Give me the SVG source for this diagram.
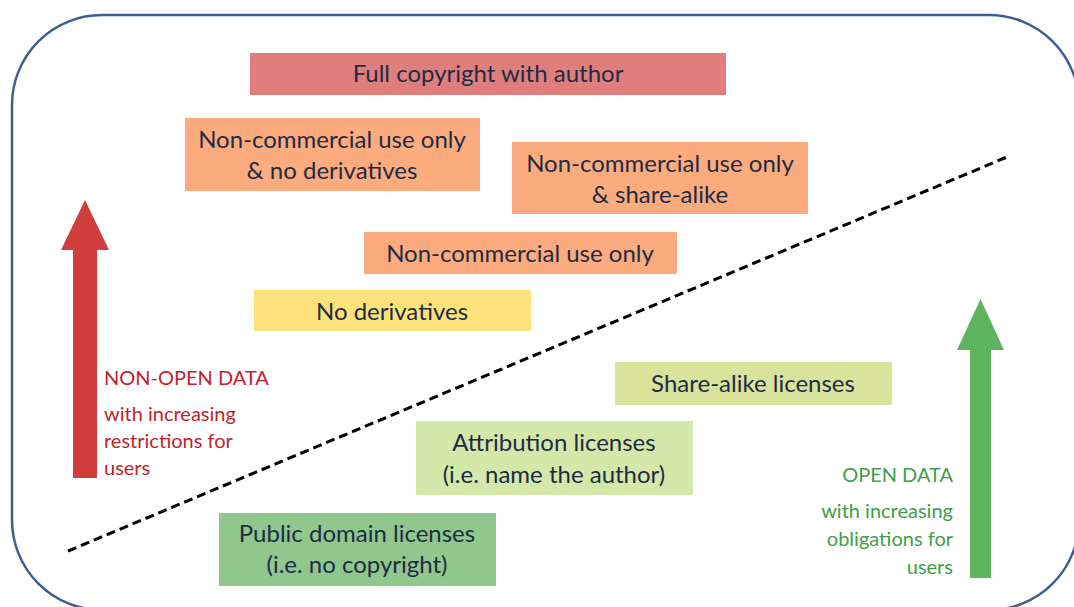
<svg xmlns="http://www.w3.org/2000/svg" width="1074" height="607" viewBox="0 0 1074 607">
  <style>
    .box text { font-family: Lato, "Open Sans", "Liberation Sans", sans-serif; font-size: 24px; fill: #1e2b45; text-anchor: middle; }
    .red { font-family: Lato, "Open Sans", "Liberation Sans", sans-serif; font-size: 20px; fill: #c0232b; }
    .green { font-family: Lato, "Open Sans", "Liberation Sans", sans-serif; font-size: 20px; fill: #3f9e47; text-anchor: end; }
  </style>
  <rect x="0" y="0" width="1074" height="607" fill="#ffffff"/>
  <!-- frame -->
  <rect x="12" y="15" width="1067" height="595" rx="90" ry="90" fill="none" stroke="#3b5f91" stroke-width="2.5"/>

  <!-- divider between open and non-open -->
  <g id="connectors">
    <line x1="68" y1="551" x2="1007" y2="157" stroke="#000" stroke-width="3" stroke-dasharray="9 5"/>
  </g>

  <!-- arrows -->
  <g id="arrow-nonopen">
    <polygon points="73,478 73,250 61,250 85,200 109,250 97,250 97,478" fill="#d13c3c"/>
  </g>
  <g id="arrow-open">
    <polygon points="970,578 970,350 957,350 980.5,299 1004,350 991,350 991,578" fill="#5fb35f"/>
  </g>

  <g id="full-copyright" class="box">
    <rect x="250" y="53" width="476" height="42" fill="#e07d7d"/>
    <text x="488" y="82">Full copyright with author</text>
  </g>
  <g id="nc-nd" class="box">
    <rect x="185" y="118" width="295" height="73" fill="#fbab7d"/>
    <text x="332" y="148">Non-commercial use only</text>
    <text x="332" y="179">&amp; no derivatives</text>
  </g>
  <g id="nc-sa" class="box">
    <rect x="512" y="142" width="296" height="72" fill="#fbab7d"/>
    <text x="660" y="172">Non-commercial use only</text>
    <text x="660" y="203">&amp; share-alike</text>
  </g>
  <g id="nc" class="box">
    <rect x="364" y="232" width="313" height="42" fill="#fbab7d"/>
    <text x="520" y="262">Non-commercial use only</text>
  </g>
  <g id="nd" class="box">
    <rect x="254" y="290" width="277" height="41" fill="#fde27b"/>
    <text x="392" y="320">No derivatives</text>
  </g>
  <g id="share-alike" class="box">
    <rect x="615" y="362" width="277" height="43" fill="#d9e39c"/>
    <text x="753" y="392">Share-alike licenses</text>
  </g>
  <g id="attribution" class="box">
    <rect x="416" y="421" width="277" height="74" fill="#d3e8a9"/>
    <text x="554" y="451">Attribution licenses</text>
    <text x="554" y="483">(i.e. name the author)</text>
  </g>
  <g id="public-domain" class="box">
    <rect x="219" y="513" width="277" height="73" fill="#8fc78d"/>
    <text x="357" y="542">Public domain licenses</text>
    <text x="357" y="573">(i.e. no copyright)</text>
  </g>

  <g id="label-nonopen">
    <text class="red" x="104" y="385">NON-OPEN DATA</text>
    <text class="red" x="104" y="421">with increasing</text>
    <text class="red" x="104" y="448">restrictions for</text>
    <text class="red" x="104" y="475">users</text>
  </g>
  <g id="label-open">
    <text class="green" x="953" y="482">OPEN DATA</text>
    <text class="green" x="953" y="518">with increasing</text>
    <text class="green" x="953" y="546">obligations for</text>
    <text class="green" x="953" y="574">users</text>
  </g>
</svg>
